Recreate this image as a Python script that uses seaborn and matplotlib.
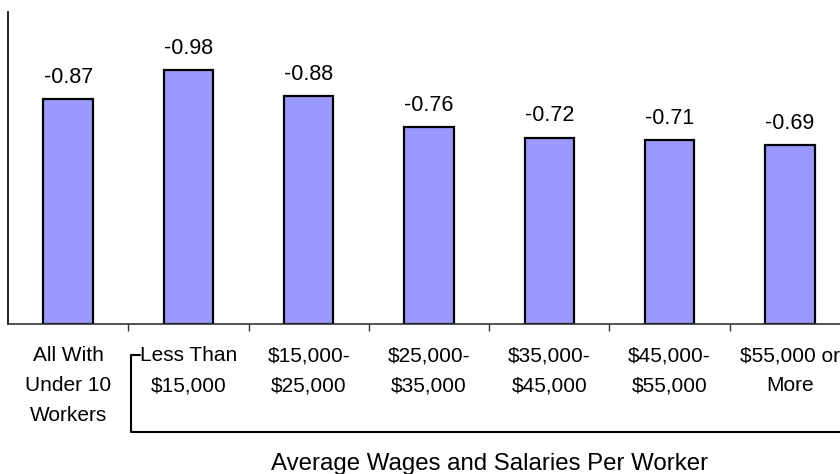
import numpy as np
import pandas as pd
import seaborn as sns
import matplotlib.pyplot as plt
import matplotlib.transforms as mtransforms

# data
categories = ["All With\nUnder 10\nWorkers", "Less Than\n$15,000", "$15,000-\n$25,000",
              "$25,000-\n$35,000", "$35,000-\n$45,000", "$45,000-\n$55,000",
              "$55,000 or\nMore"]
values = [-0.87, -0.98, -0.88, -0.76, -0.72, -0.71, -0.69]
group_title = "Average Wages and Salaries Per Worker"

sns.set_style("white")
plt.rcParams['font.family'] = ['Liberation Sans', 'DejaVu Sans']
plt.rcParams['text.color'] = 'black'
plt.rcParams['xtick.color'] = 'black'

df = pd.DataFrame({"group": categories, "value": values})
df["height"] = -df["value"]   # bars drawn by magnitude, labelled with the signed value

fig = plt.figure(figsize=(8.4, 4.74), dpi=100)
# axis runs a little past the right edge, like the cropped original
ax = fig.add_axes([8 / 840, 150 / 474, 842 / 840, 312 / 474])

sns.barplot(data=df, x="group", y="height", color="#9999FF", saturation=1,
            width=0.41, edgecolor="black", linewidth=1.6, ax=ax)

ax.set_ylim(0, 1.205)
ax.set_xlim(-0.5, len(categories) - 0.5)
ax.set_xlabel("")
ax.set_ylabel("")
ax.set_yticks([])

for i, v in enumerate(values):
    ax.annotate(f"{v:.2f}", (i, -v), xytext=(0, 8), textcoords="offset points",
                ha="center", va="bottom", fontsize=15.5, color="black")

# category labels, with tick marks between categories
ax.set_xticks(range(len(categories)))
ax.set_xticklabels(categories, fontsize=15, linespacing=1.72, color="black")
ax.set_xticks(np.arange(0.5, len(categories) - 0.5, 1), minor=True)
ax.tick_params(axis="x", which="major", length=0, pad=16)
ax.tick_params(axis="x", which="minor", length=5, width=1, color="#333333", bottom=True)

for side in ["top", "right"]:
    ax.spines[side].set_visible(False)
ax.spines["left"].set_color("#222222")
ax.spines["left"].set_linewidth(1.4)
ax.spines["bottom"].set_color("#333333")
ax.spines["bottom"].set_linewidth(1.2)

# bracket grouping the wage classes
trans = mtransforms.blended_transform_factory(ax.transData, ax.transAxes)
ax.plot([0.6, 0.525, 0.525, 7.0], [-0.099, -0.099, -0.346, -0.346],
        transform=trans, color="black", lw=1.5, clip_on=False)
ax.text(3.5, -0.468, group_title, transform=trans, ha="center", va="baseline",
        fontsize=17.3, color="black")

fig.savefig("out.png", dpi=100)
